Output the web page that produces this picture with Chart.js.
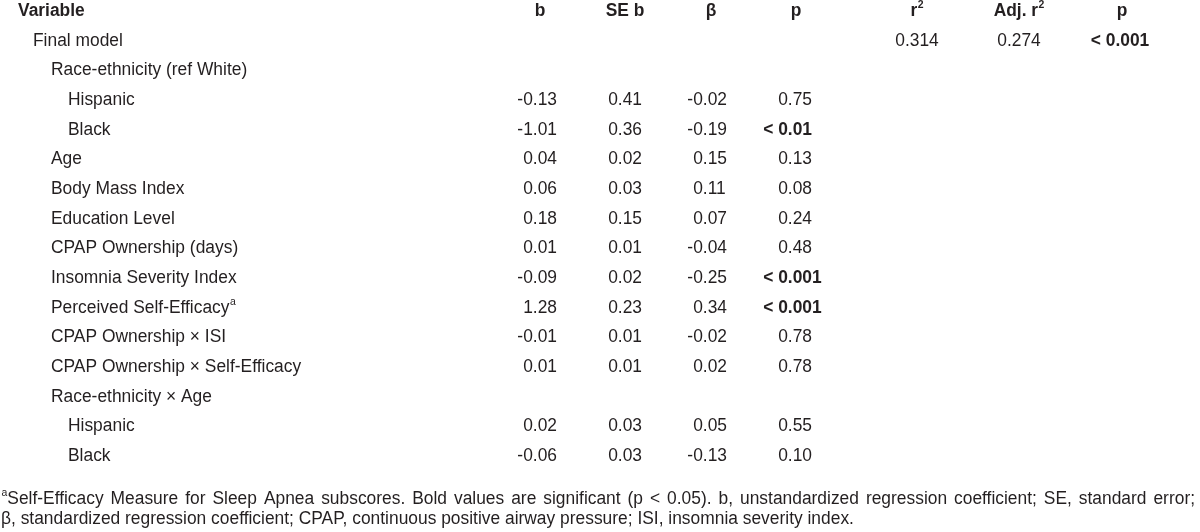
<!DOCTYPE html>
<html>
<head>
<meta charset="utf-8">
<script src="https://cdn.jsdelivr.net/npm/chart.js@4/dist/chart.umd.min.js"></script>
<style>
html,body{margin:0;padding:0;background:#ffffff;}
#wrap{width:1200px;height:532px;position:relative;}
canvas{display:block;}
</style>
</head>
<body>
<div id="wrap"><canvas id="c" width="1200" height="532"></canvas></div>
<script>
// ---------- DATA ----------
const headerLabels = ['Variable', 'b', 'SE b', 'β', 'p', 'r^2', 'Adj. r^2', 'p'];
const rowLabels = [
  'Final model',
  'Race-ethnicity (ref White)',
  'Hispanic',
  'Black',
  'Age',
  'Body Mass Index',
  'Education Level',
  'CPAP Ownership (days)',
  'Insomnia Severity Index',
  'Perceived Self-Efficacy^a',
  'CPAP Ownership × ISI',
  'CPAP Ownership × Self-Efficacy',
  'Race-ethnicity × Age',
  'Hispanic',
  'Black'
];
const rowLevels = [0, 1, 2, 2, 1, 1, 1, 1, 1, 1, 1, 1, 1, 2, 2];
const bValues    = [null, null, -0.13, -1.01, 0.04, 0.06, 0.18, 0.01, -0.09, 1.28, -0.01, 0.01, null, 0.02, -0.06];
const seBValues  = [null, null, 0.41, 0.36, 0.02, 0.03, 0.15, 0.01, 0.02, 0.23, 0.01, 0.01, null, 0.03, 0.03];
const betaValues = [null, null, -0.02, -0.19, 0.15, 0.11, 0.07, -0.04, -0.25, 0.34, -0.02, 0.02, null, 0.05, -0.13];
const pValues    = [null, null, '0.75', '< 0.01', '0.13', '0.08', '0.24', '0.48', '< 0.001', '< 0.001', '0.78', '0.78', null, '0.55', '0.10'];
const modelR2    = ['0.314'];
const modelAdjR2 = ['0.274'];
const modelP     = ['< 0.001'];
const footnoteLines = [
  '^aSelf-Efficacy Measure for Sleep Apnea subscores. Bold values are significant (p < 0.05). b, unstandardized regression coefficient; SE, standard error;',
  'β, standardized regression coefficient; CPAP, continuous positive airway pressure; ISI, insomnia severity index.'
];

// ---------- LAYOUT ----------
const FONT_FAMILY = '"Liberation Sans", Arial, Helvetica, sans-serif';
const FONT_SIZE = 17.4;
const V_STRETCH = 1.07;
const TEXT_COLOR = '#231f20';
const ROW_PITCH = 29.66;     // px per row
const FIRST_BASELINE = 16;   // px, header baseline
const headerX = [18, 540, 625, 711, 796, 917, 1019, 1122];
const headerAlign = ['left', 'center', 'center', 'center', 'center', 'center', 'center', 'center'];
const levelX = [33, 51, 68];
const decimalX = { b: 532.8, se: 617.8, beta: 702.8, p: 787.8 };
const modelX = { r2: 917, adj: 1019, p: 1120 };
const footnoteRows = [16.45, 17.13];
const footnoteX = 1;
const footnoteJustifyRight = 1195;

const yMin = -FIRST_BASELINE / ROW_PITCH;
const yMax = yMin + 532 / ROW_PITCH;

// ---------- helpers ----------
function fontStr(bold, size) {
  return (bold ? 'bold ' : '') + size + 'px ' + FONT_FAMILY;
}
function parseRich(text) {
  const segs = [];
  let buf = '';
  for (let i = 0; i < text.length; i++) {
    if (text[i] === '^' && i + 1 < text.length) {
      if (buf) { segs.push({ t: buf, sup: false }); buf = ''; }
      segs.push({ t: text[i + 1], sup: true });
      i++;
    } else buf += text[i];
  }
  if (buf) segs.push({ t: buf, sup: false });
  return segs;
}
function richWidth(ctx, text, bold) {
  let w = 0;
  parseRich(text).forEach(s => {
    ctx.font = fontStr(bold, s.sup ? FONT_SIZE * 0.6 : FONT_SIZE);
    w += ctx.measureText(s.t).width + (s.sup ? 0.5 : 0);
  });
  return w;
}
function drawRichAt(ctx, text, x, y, bold) {
  let cx = x;
  parseRich(text).forEach(s => {
    const size = s.sup ? FONT_SIZE * 0.6 : FONT_SIZE;
    ctx.font = fontStr(bold, size);
    const px = cx + (s.sup ? 0.5 : 0);
    const py = s.sup ? y - FONT_SIZE * 0.45 : y;
    ctx.save();
    ctx.translate(px, py);
    ctx.scale(1, V_STRETCH);
    ctx.fillText(s.t, 0, 0);
    ctx.restore();
    cx += ctx.measureText(s.t).width + (s.sup ? 0.5 : 0);
  });
}
function drawCell(ctx, text, x, y, align, bold, justifyTo) {
  ctx.textAlign = 'left';
  ctx.textBaseline = 'alphabetic';
  ctx.fillStyle = TEXT_COLOR;
  if (justifyTo) {
    const words = text.split(' ');
    const widths = words.map(w => richWidth(ctx, w, bold));
    const total = widths.reduce((a, b) => a + b, 0);
    const gap = (justifyTo - x - total) / (words.length - 1);
    let cx = x;
    words.forEach((w, i) => { drawRichAt(ctx, w, cx, y, bold); cx += widths[i] + gap; });
    return;
  }
  let startX = x;
  if (align === 'center') startX = x - richWidth(ctx, text, bold) / 2;
  else if (align === 'right') startX = x - richWidth(ctx, text, bold);
  else if (align === 'decimal') {
    const k = text.indexOf('.');
    const left = k >= 0 ? text.slice(0, k) : text;
    startX = x - richWidth(ctx, left, bold);
  }
  drawRichAt(ctx, text, startX, y, bold);
}

// ---------- datasets (one per column) ----------
function numCol(values, x) {
  const pts = [];
  values.forEach((v, i) => {
    if (v === null) return;
    const t = typeof v === 'number' ? v.toFixed(2) : v;
    pts.push({ x: x, y: i + 1, t: t, bold: t.trim().startsWith('<') });
  });
  return pts;
}
const datasets = [
  { label: 'header', align: 'header',
    data: headerLabels.map((h, i) => ({ x: headerX[i], y: 0, t: h, bold: true, al: headerAlign[i] })) },
  { label: 'variable', align: 'left',
    data: rowLabels.map((r, i) => ({ x: levelX[rowLevels[i]], y: i + 1, t: r, bold: false })) },
  { label: 'b', align: 'decimal', data: numCol(bValues, decimalX.b) },
  { label: 'SE b', align: 'decimal', data: numCol(seBValues, decimalX.se) },
  { label: 'beta', align: 'decimal', data: numCol(betaValues, decimalX.beta) },
  { label: 'p', align: 'decimal', data: numCol(pValues, decimalX.p) },
  { label: 'r2', align: 'center', data: modelR2.map(v => ({ x: modelX.r2, y: 1, t: v, bold: false })) },
  { label: 'adj r2', align: 'center', data: modelAdjR2.map(v => ({ x: modelX.adj, y: 1, t: v, bold: false })) },
  { label: 'model p', align: 'center', data: modelP.map(v => ({ x: modelX.p, y: 1, t: v, bold: v.startsWith('<') })) },
  { label: 'footnote', align: 'left',
    data: footnoteLines.map((l, i) => ({ x: footnoteX, y: footnoteRows[i], t: l, bold: false,
      justify: i < footnoteLines.length - 1 ? footnoteJustifyRight : null })) }
];
datasets.forEach(d => { d.pointRadius = 0; d.pointHoverRadius = 0; d.showLine = false; });

const tablePlugin = {
  id: 'tableText',
  afterDatasetsDraw(chart) {
    const ctx = chart.ctx;
    ctx.save();
    chart.data.datasets.forEach((ds, di) => {
      const meta = chart.getDatasetMeta(di);
      meta.data.forEach((el, i) => {
        const d = ds.data[i];
        const align = ds.align === 'header' ? d.al : ds.align;
        drawCell(ctx, d.t, el.x, el.y, align, d.bold, d.justify);
      });
    });
    ctx.restore();
  }
};

new Chart(document.getElementById('c'), {
  type: 'scatter',
  data: { datasets: datasets },
  options: {
    responsive: false,
    animation: false,
    devicePixelRatio: 1,
    layout: { padding: 0 },
    events: [],
    plugins: { legend: { display: false }, tooltip: { enabled: false }, title: { display: false } },
    scales: {
      x: { type: 'linear', min: 0, max: 1200, display: false },
      y: { type: 'linear', min: yMin, max: yMax, reverse: true, display: false }
    }
  },
  plugins: [tablePlugin]
});
</script>
</body>
</html>
